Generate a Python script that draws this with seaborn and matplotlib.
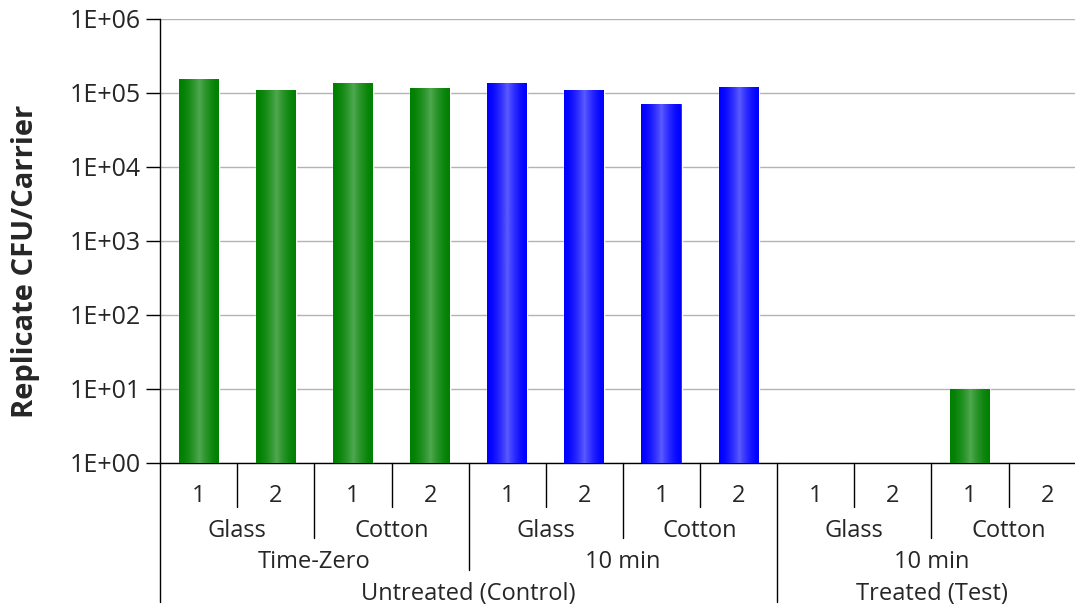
import numpy as np
import pandas as pd
import matplotlib
matplotlib.use("Agg")
import matplotlib.pyplot as plt
import matplotlib.colors as mcolors
from matplotlib.ticker import FixedLocator, FuncFormatter, NullLocator
import seaborn as sns

# data
replicates = ["1", "2", "1", "2", "1", "2", "1", "2", "1", "2", "1", "2"]
carriers = ["Glass", "Cotton", "Glass", "Cotton", "Glass", "Cotton"]
times = ["Time-Zero", "10 min", "10 min"]
treatments = ["Untreated (Control)", "Treated (Test)"]
cfu = [155000, 110000, 140000, 120000, 137000, 113000, 73000, 124000,
       np.nan, np.nan, 10, np.nan]
bar_group = ["green"] * 4 + ["blue"] * 4 + ["green"] * 4

slots = [f"s{i}" for i in range(len(cfu))]
df = pd.DataFrame({"slot": slots, "cfu": cfu, "group": bar_group})

sns.set_theme(style="white")
plt.rcParams["font.family"] = ["Open Sans", "DejaVu Sans"]

fig = plt.figure(figsize=(10.75, 6.08), dpi=100)
ax = fig.add_axes([0.149, 0.2385, 0.861, 0.7303])

palette = {"green": "#008000", "blue": "#0000ff"}
centers = {"green": "#4fa84f", "blue": "#5a5aff"}
sns.barplot(data=df, x="slot", y="cfu", hue="group", palette=palette,
            order=slots, dodge=False, width=0.52, legend=False,
            saturation=1, ax=ax, zorder=2)
ax.set_yscale("log")

# soft highlight down the middle of each bar
for patch in ax.patches:
    h = patch.get_height()
    if not np.isfinite(h) or h <= 1:
        continue
    x0 = patch.get_x()
    w = patch.get_width()
    fc = mcolors.to_hex(patch.get_facecolor())
    key = "green" if fc == "#008000" else "blue"
    c1 = np.array(mcolors.to_rgb(palette[key]))
    c2 = np.array(mcolors.to_rgb(centers[key]))
    t = np.linspace(-1, 1, 200)
    f = np.clip(1 - np.abs(t), 0, 1)[:, None] ** 1.6
    grad = (c1 + (c2 - c1) * f)[None, :, :]
    im = ax.imshow(grad, extent=[x0, x0 + w, 1, h], aspect="auto",
                   zorder=3, interpolation="bilinear")
    im.set_clip_path(patch)

ax.set_xlim(-0.5, len(cfu) - 0.5)
ax.set_ylim(1, 1e6)
ax.yaxis.set_major_locator(FixedLocator([10.0 ** k for k in range(7)]))
ax.yaxis.set_minor_locator(NullLocator())
ax.yaxis.set_major_formatter(
    FuncFormatter(lambda v, p: f"1E+{int(round(np.log10(v))):02d}"))
ax.tick_params(axis="y", which="major", direction="out", length=10, width=1,
               color="black", labelsize=18, pad=4, left=True)
ax.grid(axis="y", color="#b3b3b3", linewidth=1, zorder=0)
ax.set_axisbelow(True)

for s in ["top", "right"]:
    ax.spines[s].set_visible(False)
for s in ["left", "bottom"]:
    ax.spines[s].set_color("black")
    ax.spines[s].set_linewidth(1)

ax.set_xticks([])
ax.set_xlabel("")
ax.set_ylabel("Replicate CFU/Carrier", fontsize=21, fontweight="bold",
              va="center")
ax.yaxis.set_label_coords(-0.146, 0.453)

# hierarchical category axis
trans = ax.get_xaxis_transform()
n = len(cfu)
line_y = [-0.099, -0.169, -0.241, -0.313]
text_y = [-0.074, -0.153, -0.223, -0.295]
spans = [1, 2, 4, 8]
level_labels = [replicates, carriers, times]

for b in range(n):
    if b % 8 == 0:
        depth = 3
    elif b % 4 == 0:
        depth = 2
    elif b % 2 == 0:
        depth = 1
    else:
        depth = 0
    ax.plot([b - 0.5, b - 0.5], [0, line_y[depth]], color="black", lw=1,
            transform=trans, clip_on=False)

for lvl in range(3):
    span = spans[lvl]
    for i, lab in enumerate(level_labels[lvl]):
        xc = i * span + (span - 1) / 2
        ax.text(xc, text_y[lvl], lab, transform=trans, ha="center",
                va="center", fontsize=17)

ax.text(3.5, text_y[3], treatments[0], transform=trans, ha="center",
        va="center", fontsize=17)
ax.text(9.5, text_y[3], treatments[1], transform=trans, ha="center",
        va="center", fontsize=17)

fig.savefig("out.png", dpi=100)
